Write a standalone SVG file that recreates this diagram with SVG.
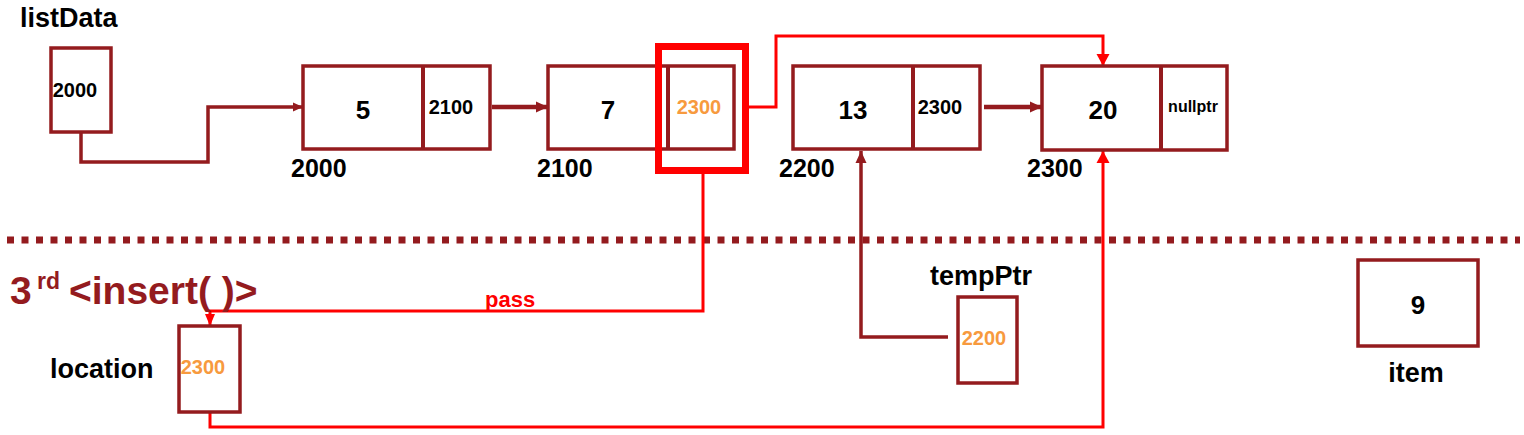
<svg xmlns="http://www.w3.org/2000/svg" width="1524" height="435" viewBox="0 0 1524 435">
<style>
  .box{fill:#fff;stroke:#941B1E;stroke-width:3.5}
  .div{stroke:#941B1E;stroke-width:4}
  text{font-family:"Liberation Sans",Arial,sans-serif;font-weight:bold;fill:#000}
  .val{font-size:26px;text-anchor:middle}
  .ptr{font-size:20px;text-anchor:middle}
  .addr{font-size:25px}
  .lbl{font-size:27px}
  .org{fill:#F79A3E}
  .dk{stroke:#941B1E;fill:none}
  .rd{stroke:#FF0000;fill:none;stroke-width:3}
</style>
<defs>
  <marker id="aDk" markerUnits="userSpaceOnUse" markerWidth="14" markerHeight="14" refX="12" refY="7" orient="auto">
    <path d="M0,1.5 L12,7 L0,12.5 Z" fill="#941B1E"/>
  </marker>
  <marker id="aDkS" markerUnits="userSpaceOnUse" markerWidth="12" markerHeight="12" refX="10" refY="6" orient="auto">
    <path d="M0,1.5 L10,6 L0,10.5 Z" fill="#941B1E"/>
  </marker>
  <marker id="aRd" markerUnits="userSpaceOnUse" markerWidth="14" markerHeight="14" refX="12" refY="7" orient="auto">
    <path d="M0,0.5 L12,7 L0,13.5 Z" fill="#FF0000"/>
  </marker>
  <marker id="aRdS" markerUnits="userSpaceOnUse" markerWidth="14" markerHeight="12" refX="12" refY="6" orient="auto">
    <path d="M0,1 L12,6 L0,11 Z" fill="#FF0000"/>
  </marker>
</defs>
<rect width="1524" height="435" fill="#fff"/>

<!-- divider dotted line -->
<line x1="7" y1="240" x2="1520" y2="240" stroke="#941B1E" stroke-width="7" stroke-dasharray="7 7.5"/>

<g id="connectors">
  <path class="dk" stroke-width="3.5" d="M81,132 V162 H208 V107 H303" marker-end="url(#aDkS)"/>
  <path class="dk" stroke-width="4.5" d="M492,107 H548" marker-end="url(#aDk)"/>
  <path class="dk" stroke-width="4.5" d="M984,107 H1042" marker-end="url(#aDk)"/>
  <path class="dk" stroke-width="3.5" d="M948,337 H861 V151" marker-end="url(#aDk)"/>
  <path class="rd" stroke-width="3.5" d="M749,107 H776 V36 H1103 V66" marker-end="url(#aRd)"/>
  <path class="rd" d="M703,174 V311 H210 V326" marker-end="url(#aRdS)"/>
  <path class="rd" stroke-width="3.5" d="M210,412 V427 H1103 V151" marker-end="url(#aRd)"/>
</g>

<g id="listData">
  <text class="lbl" x="20" y="27">listData</text>
  <rect class="box" x="51" y="48" width="60" height="84"/>
  <text class="ptr" x="75" y="97">2000</text>
</g>

<g id="node5">
  <rect class="box" x="303" y="66" width="187" height="83"/>
  <line class="div" x1="423" y1="66" x2="423" y2="149"/>
  <text class="val" x="363" y="119">5</text>
  <text class="ptr" x="451" y="114">2100</text>
  <text class="addr" x="291" y="177">2000</text>
</g>

<g id="node7">
  <rect class="box" x="548" y="66" width="186" height="83"/>
  <line class="div" x1="668" y1="66" x2="668" y2="149"/>
  <text class="val" x="608" y="119">7</text>
  <text class="ptr org" x="699" y="114">2300</text>
  <text class="addr" x="537" y="177">2100</text>
</g>

<g id="highlight">
  <rect x="658.5" y="46.5" width="87" height="124" fill="none" stroke="#FF0000" stroke-width="7"/>
</g>

<g id="node13">
  <rect class="box" x="793" y="66" width="187" height="83"/>
  <line class="div" x1="913" y1="66" x2="913" y2="149"/>
  <text class="val" x="853" y="119">13</text>
  <text class="ptr" x="940" y="114">2300</text>
  <text class="addr" x="779" y="177">2200</text>
</g>

<g id="node20">
  <rect class="box" x="1042" y="66" width="185" height="84"/>
  <line class="div" x1="1161" y1="66" x2="1161" y2="150"/>
  <text class="val" x="1103" y="119">20</text>
  <text x="1193" y="112" font-size="16" text-anchor="middle">nullptr</text>
  <text class="addr" x="1027" y="177">2300</text>
</g>

<g id="title">
  <text x="10" y="304" font-size="39" style="fill:#941B1E">3<tspan x="37" font-size="23" dy="-15">rd</tspan><tspan dy="15" x="69">&lt;insert( )&gt;</tspan></text>
</g>

<g id="passLabel">
  <text x="485" y="307" font-size="22" style="fill:#FF0000">pass</text>
</g>

<g id="location">
  <text class="lbl" x="50" y="378">location</text>
  <rect class="box" x="179" y="326" width="61" height="86"/>
  <text class="ptr org" x="203" y="374">2300</text>
</g>

<g id="tempPtr">
  <text x="981" y="285" text-anchor="middle" style="font-size:27px">tempPtr</text>
  <rect class="box" x="958" y="297" width="59" height="86"/>
  <text class="ptr org" x="984" y="345">2200</text>
</g>

<g id="item">
  <rect class="box" x="1358" y="260" width="120" height="86"/>
  <text class="val" x="1418" y="314">9</text>
  <text class="lbl" x="1416" y="382" text-anchor="middle">item</text>
</g>
</svg>
